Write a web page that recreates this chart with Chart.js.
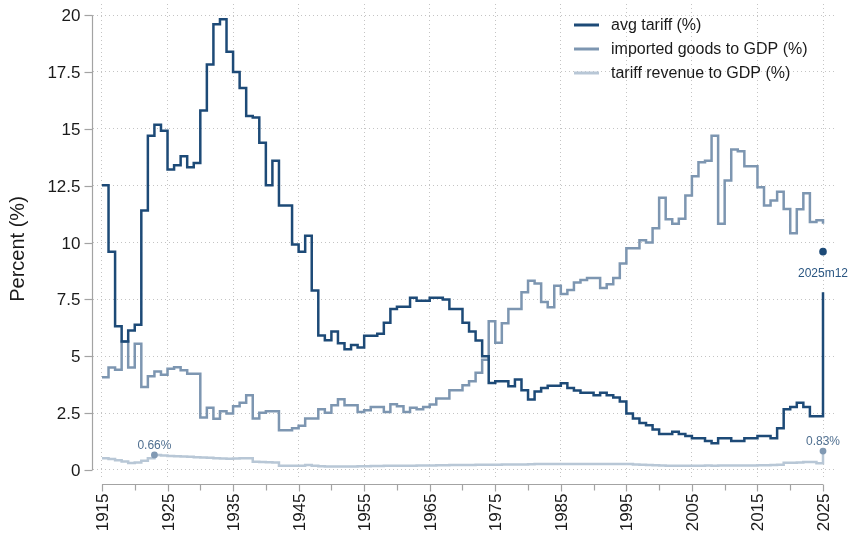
<!DOCTYPE html>
<html>
<head>
<meta charset="utf-8">
<script src="https://cdn.jsdelivr.net/npm/chart.js@4.4.1/dist/chart.umd.min.js"></script>
<style>
html,body{margin:0;padding:0;background:#ffffff;}
#wrap{width:850px;height:533px;position:relative;}
</style>
</head>
<body>
<div id="wrap"><canvas id="c" width="850" height="533"></canvas></div>
<script>
// ---------- data ----------
const years = [1915,1916,1917,1918,1919,1920,1921,1922,1923,1924,1925,1926,1927,1928,1929,1930,1931,1932,1933,1934,
1935,1936,1937,1938,1939,1940,1941,1942,1943,1944,1945,1946,1947,1948,1949,1950,1951,1952,1953,1954,
1955,1956,1957,1958,1959,1960,1961,1962,1963,1964,1965,1966,1967,1968,1969,1970,1971,1972,1973,1974,
1975,1976,1977,1978,1979,1980,1981,1982,1983,1984,1985,1986,1987,1988,1989,1990,1991,1992,1993,1994,
1995,1996,1997,1998,1999,2000,2001,2002,2003,2004,2005,2006,2007,2008,2009,2010,2011,2012,2013,2014,
2015,2016,2017,2018,2019,2020,2021,2022,2023,2024,2025];

const avgTariff = [12.52,9.60,6.32,5.65,6.13,6.39,11.41,14.70,15.18,14.92,13.21,13.40,13.79,13.31,13.50,15.81,17.83,19.60,19.82,18.39,
17.50,16.80,15.57,15.50,14.39,12.52,13.60,11.63,11.63,9.91,9.59,10.30,7.89,5.91,5.70,6.09,5.57,5.31,5.49,5.39,
5.90,5.90,5.99,6.47,7.08,7.18,7.18,7.57,7.44,7.44,7.57,7.57,7.50,7.08,7.08,6.47,6.09,5.69,5.00,3.82,
3.90,3.90,3.68,3.98,3.50,3.10,3.45,3.60,3.70,3.70,3.81,3.60,3.49,3.39,3.39,3.28,3.39,3.28,3.19,3.01,
2.48,2.26,2.07,1.97,1.78,1.58,1.58,1.68,1.58,1.49,1.39,1.39,1.27,1.17,1.39,1.39,1.27,1.27,1.39,1.39,
1.49,1.49,1.39,1.83,2.67,2.77,2.96,2.77,2.36,2.36,7.81];

const importsToGdp = [4.08,4.50,4.41,5.65,4.50,5.55,3.65,4.12,4.33,4.19,4.45,4.52,4.38,4.23,4.23,2.31,2.73,2.25,2.58,2.48,
2.80,2.96,3.28,2.26,2.51,2.58,2.58,1.75,1.75,1.83,1.94,2.26,2.26,2.67,2.51,2.85,3.11,2.85,2.85,2.55,
2.63,2.77,2.77,2.55,2.89,2.80,2.55,2.73,2.67,2.77,2.88,3.14,3.14,3.50,3.50,3.72,3.90,4.27,4.85,6.54,
5.59,6.45,7.08,7.08,7.81,8.32,8.20,7.39,7.15,8.10,7.74,7.91,8.24,8.35,8.44,8.44,8.00,8.17,8.44,9.08,
9.75,9.75,10.10,10.00,10.63,11.97,11.02,10.83,11.05,12.07,12.92,13.53,13.60,14.70,10.83,12.73,14.09,14.01,13.35,13.35,
12.43,11.63,11.85,12.23,11.48,10.41,11.46,12.17,10.90,10.98,10.83];

const revenueToGdp = [0.51,0.48,0.43,0.37,0.31,0.33,0.41,0.51,0.66,0.63,0.61,0.60,0.59,0.58,0.56,0.55,0.54,0.52,0.50,0.49,
0.50,0.51,0.51,0.36,0.35,0.34,0.33,0.19,0.18,0.18,0.18,0.22,0.18,0.16,0.15,0.15,0.15,0.15,0.15,0.16,
0.16,0.17,0.17,0.18,0.18,0.18,0.19,0.19,0.20,0.20,0.20,0.21,0.21,0.22,0.22,0.22,0.22,0.23,0.23,0.23,
0.23,0.24,0.24,0.24,0.24,0.25,0.26,0.26,0.26,0.26,0.26,0.26,0.26,0.26,0.26,0.26,0.26,0.26,0.26,0.26,
0.26,0.24,0.23,0.22,0.21,0.20,0.19,0.19,0.19,0.19,0.19,0.19,0.20,0.19,0.20,0.20,0.20,0.20,0.20,0.20,
0.21,0.21,0.22,0.23,0.32,0.32,0.33,0.35,0.35,0.29,0.83];

const seriesNames = ['avg tariff (%)', 'imported goods to GDP (%)', 'tariff revenue to GDP (%)'];

// highlighted points: [x, y, label]
const markerTariffX = [2025];
const markerTariffY = [9.60];
const markerTariffLabel = ['2025m12'];
const markerRevenueX = [1923, 2025];
const markerRevenueY = [0.66, 0.83];
const markerRevenueLabel = ['0.66%', '0.83%'];

const xTickValues = [1915,1925,1935,1945,1955,1965,1975,1985,1995,2005,2015,2025];
const xMinorTickValues = [1920,1930,1940,1950,1960,1970,1980,1990,2000,2010,2020];
const yTickValues = [0,2.5,5,7.5,10,12.5,15,17.5,20];
const yTickLabels = ['0','2.5','5','7.5','10','12.5','15','17.5','20'];
const yAxisTitle = 'Percent (%)';

// ---------- style ----------
const FONT = '"Liberation Sans", Arial, Helvetica, sans-serif';
const C_TARIFF = '#1d4a77';
const C_IMPORT = '#7d96b1';
const C_REV = '#b8c7d6';
const C_GRID = '#c4c4c4';
const C_AXIS = '#a3a3a3';
const C_TEXT = '#1a1a1a';

function pts(vals){ return years.map((yr,i)=>({x:yr, y:vals[i]})); }
function mpts(xs, ys){ return xs.map((v,i)=>({x:v, y:ys[i]})); }

const axesPlugin = {
  id: 'stataAxes',
  afterDraw(chart){
    const {ctx, scales:{x, y}} = chart;
    ctx.save();
    // y axis
    const yAxisX = 92.5;
    ctx.strokeStyle = C_AXIS; ctx.lineWidth = 1.2;
    ctx.beginPath();
    ctx.moveTo(yAxisX, y.getPixelForValue(yTickValues[0]));
    ctx.lineTo(yAxisX, y.getPixelForValue(yTickValues[yTickValues.length-1]));
    ctx.stroke();
    ctx.fillStyle = C_TEXT;
    ctx.font = '17px ' + FONT;
    ctx.textAlign = 'right'; ctx.textBaseline = 'middle';
    yTickValues.forEach((v,i)=>{
      const py = Math.round(y.getPixelForValue(v)) + 0.5;
      ctx.beginPath(); ctx.moveTo(yAxisX - 8, py); ctx.lineTo(yAxisX, py); ctx.stroke();
      ctx.fillText(yTickLabels[i], yAxisX - 12, py + 0.5);
    });
    // y title
    ctx.save();
    ctx.translate(18, 249);
    ctx.rotate(-Math.PI/2);
    ctx.textAlign = 'center'; ctx.textBaseline = 'middle';
    ctx.font = '20px ' + FONT;
    ctx.fillText(yAxisTitle, 0, 0);
    ctx.restore();
    // x axis
    const xAxisY = 484.5;
    ctx.beginPath();
    ctx.moveTo(x.getPixelForValue(xTickValues[0]), xAxisY);
    ctx.lineTo(x.getPixelForValue(xTickValues[xTickValues.length-1]), xAxisY);
    ctx.stroke();
    xMinorTickValues.forEach(v=>{
      const px = Math.round(x.getPixelForValue(v)) + 0.5;
      ctx.beginPath(); ctx.moveTo(px, xAxisY); ctx.lineTo(px, xAxisY + 6); ctx.stroke();
    });
    ctx.font = '17px ' + FONT;
    xTickValues.forEach(v=>{
      const px = Math.round(x.getPixelForValue(v)) + 0.5;
      ctx.beginPath(); ctx.moveTo(px, xAxisY); ctx.lineTo(px, xAxisY + 7); ctx.stroke();
      ctx.save();
      ctx.translate(px + 0.5, xAxisY + 9);
      ctx.rotate(-Math.PI/2);
      ctx.textAlign = 'right'; ctx.textBaseline = 'middle';
      ctx.fillText(String(v), 0, 0);
      ctx.restore();
    });
    // legend
    const legendColors = [C_TARIFF, C_IMPORT, C_REV];
    const rows = [25, 49, 73];
    ctx.font = '16px ' + FONT;
    ctx.textAlign = 'left'; ctx.textBaseline = 'middle';
    seriesNames.forEach((n,i)=>{
      ctx.strokeStyle = legendColors[i]; ctx.lineWidth = 3;
      ctx.beginPath(); ctx.moveTo(574, rows[i]); ctx.lineTo(599, rows[i]); ctx.stroke();
      ctx.fillStyle = C_TEXT;
      ctx.fillText(n, 611, rows[i] + 0.5);
    });
    // marker labels
    ctx.font = '12px ' + FONT;
    ctx.textAlign = 'center'; ctx.textBaseline = 'alphabetic';
    ctx.fillStyle = '#2a5682';
    markerTariffX.forEach((v,i)=>{
      ctx.fillText(markerTariffLabel[i], x.getPixelForValue(v), y.getPixelForValue(markerTariffY[i]) + 25);
    });
    ctx.fillStyle = '#4f6f90';
    markerRevenueX.forEach((v,i)=>{
      ctx.fillText(markerRevenueLabel[i], x.getPixelForValue(v), y.getPixelForValue(markerRevenueY[i]) - 6);
    });
    ctx.restore();
  }
};

new Chart(document.getElementById('c'), {
  type: 'line',
  data: {
    datasets: [
      {label: 'tariff 2025m12', type: 'scatter', data: mpts(markerTariffX, markerTariffY),
       pointRadius: 3.8, pointBackgroundColor: C_TARIFF, pointBorderColor: C_TARIFF, pointBorderWidth: 0, showLine: false},
      {label: 'revenue markers', type: 'scatter', data: mpts(markerRevenueX, markerRevenueY),
       pointRadius: 3.4, pointBackgroundColor: '#8199b3', pointBorderColor: '#8199b3', pointBorderWidth: 0, showLine: false},
      {label: seriesNames[0], data: pts(avgTariff), stepped: true, borderColor: C_TARIFF, borderWidth: 2.5, pointRadius: 0, fill: false},
      {label: seriesNames[1], data: pts(importsToGdp), stepped: true, borderColor: C_IMPORT, borderWidth: 2.5, pointRadius: 0, fill: false},
      {label: seriesNames[2], data: pts(revenueToGdp), stepped: true, borderColor: C_REV, borderWidth: 2.5, pointRadius: 0, fill: false}
    ]
  },
  options: {
    responsive: false,
    animation: false,
    devicePixelRatio: 1,
    layout: {padding: {left: 93, right: 15, top: 2, bottom: 56}},
    plugins: {legend: {display: false}, tooltip: {enabled: false}},
    scales: {
      x: {
        type: 'linear', min: 1913.63, max: 2026.83,
        afterBuildTicks: s => { s.ticks = xTickValues.map(v => ({value: v})); },
        ticks: {display: false},
        grid: {color: C_GRID, lineWidth: 1, drawTicks: false},
        border: {display: false, dash: [1, 3]}
      },
      y: {
        type: 'linear', min: -0.31, max: 20.49,
        afterBuildTicks: s => { s.ticks = yTickValues.map(v => ({value: v})); },
        ticks: {display: false},
        grid: {color: C_GRID, lineWidth: 1, drawTicks: false},
        border: {display: false, dash: [1, 3]}
      }
    }
  },
  plugins: [axesPlugin]
});
</script>
</body>
</html>
